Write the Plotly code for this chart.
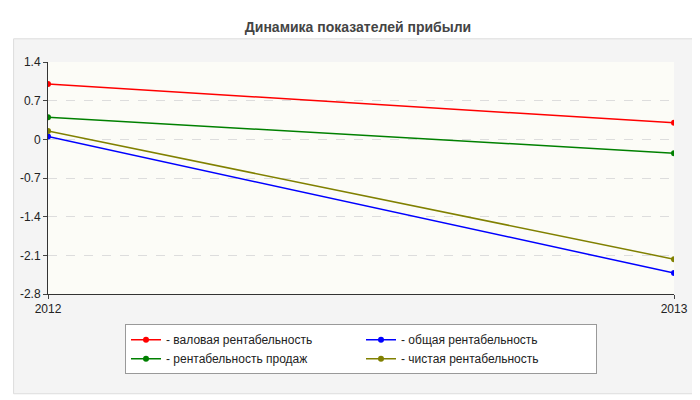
import plotly.graph_objects as go

years = ["2012", "2013"]
names = ["- валовая рентабельность", "- общая рентабельность", "- рентабельность продаж", "- чистая рентабельность"]
colors = ["#ff0000", "#0000ff", "#008000", "#808000"]
values = [[1.0, 0.3], [0.05, -2.42], [0.4, -0.25], [0.15, -2.17]]
ticks = [1.4, 0.7, 0, -0.7, -1.4, -2.1, -2.8]

fig = go.Figure()
for n, c, v in zip(names, colors, values):
    fig.add_trace(go.Scatter(x=[0, 1], y=v, name=n, mode="lines+markers",
                             line=dict(color=c, width=1.5), marker=dict(color=c, size=6)))
fig.update_layout(
    width=700, height=400, paper_bgcolor="white", plot_bgcolor="#fcfcf7",
    margin=dict(l=40, r=34, t=54, b=114),
    title=dict(text="<b>Динамика показателей прибыли</b>", x=0.5, y=0.965, xanchor="center",
               font=dict(family="Arial", size=14, color="#444")),
    font=dict(family="Arial", size=12, color="#222"),
    xaxis=dict(range=[0, 1], tickvals=[0, 1], ticktext=years, showgrid=False,
               showline=True, linecolor="#333", ticks="outside", ticklen=4),
    yaxis=dict(range=[-2.8, 1.4], tickvals=ticks, ticktext=[str(t) for t in ticks],
               showgrid=True, gridcolor="#dddddd", griddash="dash", zeroline=False,
               showline=True, linecolor="#333", ticks="outside", ticklen=4),
    legend=dict(orientation="h", x=0.5, xanchor="center", y=-0.13, yanchor="top",
                bgcolor="white", bordercolor="#999", borderwidth=1,
                font=dict(size=12), entrywidth=190, traceorder="normal"),
    shapes=[dict(type="rect", xref="paper", yref="paper", x0=-0.055, x1=1.04, y0=-0.43, y1=1.1,
                 fillcolor="#f4f4f4", line=dict(color="#ddd", width=1), layer="below"),
            dict(type="rect", xref="paper", yref="paper", x0=0, x1=1, y0=0, y1=1,
                 fillcolor="#fcfcf7", line=dict(width=0), layer="below")],
)
fig.write_html("out.html")
